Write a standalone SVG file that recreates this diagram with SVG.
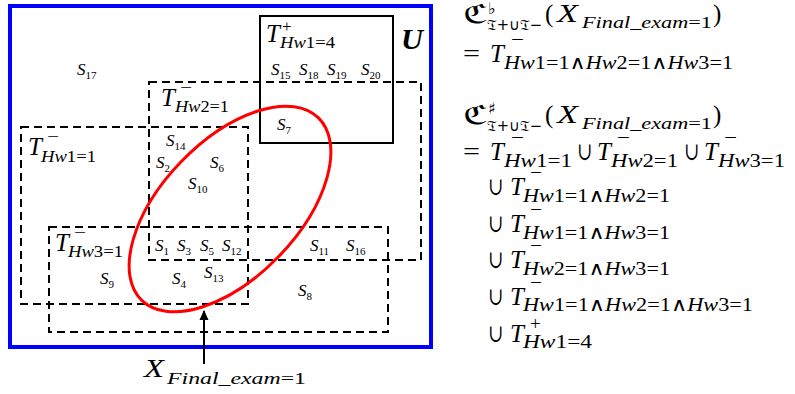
<svg xmlns="http://www.w3.org/2000/svg" width="795" height="394" viewBox="0 0 795 394">
<style>
text{font-family:"Liberation Serif","DejaVu Serif",serif;fill:#000}
.s{font-size:17px;font-style:italic}
.ss{font-size:11px;font-style:normal}
.T{font-size:25px;font-style:italic}
.sup{font-size:17px;font-style:normal}
.sub{font-size:16px;font-style:italic}
.r{font-size:25px}
.ri{font-size:25px;font-style:italic}
.rs{font-size:19px;font-style:italic}
.rsup{font-size:19px;font-style:normal}
.n{font-style:normal}
.dash{fill:none;stroke:#000;stroke-width:2;stroke-dasharray:8,5}
.frak{font-family:"DejaVu Sans","DejaVu Serif","Noto Sans",serif;font-style:normal}
</style>
<defs>
<marker id="ah" viewBox="0 0 10 10" refX="9" refY="5" markerWidth="10" markerHeight="10" markerUnits="userSpaceOnUse" orient="auto">
<path d="M0,0.5 L10,5 L0,9.5 Z" fill="#000"/>
</marker>
</defs>
<rect x="0" y="0" width="795" height="394" fill="#fff"/>

<g id="universe">
<rect x="10" y="6" width="421" height="341" fill="none" stroke="#0000ff" stroke-width="4"/>
<text x="401" y="49" style="font-size:29px;font-weight:bold;font-style:italic" textLength="22" lengthAdjust="spacingAndGlyphs">U</text>
</g>

<g id="T-plus-hw1-4">
<rect x="260" y="16" width="133" height="127" fill="none" stroke="#000" stroke-width="2"/>
<text x="266" y="42" class="T">T</text>
<text x="282" y="32" class="sup">+</text>
<text x="280" y="48" class="sub" textLength="55" lengthAdjust="spacingAndGlyphs">Hw<tspan class="n">1=4</tspan></text>
</g>

<g id="T-minus-hw2-1">
<rect x="149" y="82" width="272" height="178" class="dash"/>
<text x="161" y="106" class="T">T</text>
<text x="180" y="93" class="sup" textLength="12" lengthAdjust="spacingAndGlyphs">−</text>
<text x="175" y="112" class="sub" textLength="54" lengthAdjust="spacingAndGlyphs">Hw<tspan class="n">2=1</tspan></text>
</g>

<g id="T-minus-hw1-1">
<rect x="21" y="127" width="227" height="177" class="dash"/>
<text x="28" y="155" class="T">T</text>
<text x="47" y="142" class="sup" textLength="12" lengthAdjust="spacingAndGlyphs">−</text>
<text x="41" y="162" class="sub" textLength="55" lengthAdjust="spacingAndGlyphs">Hw<tspan class="n">1=1</tspan></text>
</g>

<g id="T-minus-hw3-1">
<rect x="49" y="227" width="339" height="105" class="dash"/>
<text x="55" y="251" class="T">T</text>
<text x="74" y="238" class="sup" textLength="12" lengthAdjust="spacingAndGlyphs">−</text>
<text x="68" y="257" class="sub" textLength="55" lengthAdjust="spacingAndGlyphs">Hw<tspan class="n">3=1</tspan></text>
</g>

<g id="X-final-exam">
<ellipse cx="230" cy="209" rx="127" ry="68" transform="rotate(-46 230 209)" fill="none" stroke="#ff0000" stroke-width="3"/>
</g>

<g id="elements">
<text x="77" y="75" class="s">S<tspan class="ss" dy="4">17</tspan></text>
<text x="271" y="75" class="s">S<tspan class="ss" dy="4">15</tspan></text>
<text x="299" y="75" class="s">S<tspan class="ss" dy="4">18</tspan></text>
<text x="327" y="75" class="s">S<tspan class="ss" dy="4">19</tspan></text>
<text x="361" y="75" class="s">S<tspan class="ss" dy="4">20</tspan></text>
<text x="277" y="130" class="s">S<tspan class="ss" dy="4">7</tspan></text>
<text x="166" y="146" class="s">S<tspan class="ss" dy="4">14</tspan></text>
<text x="156" y="168" class="s">S<tspan class="ss" dy="4">2</tspan></text>
<text x="210" y="168" class="s">S<tspan class="ss" dy="4">6</tspan></text>
<text x="188" y="189" class="s">S<tspan class="ss" dy="4">10</tspan></text>
<text x="155" y="251" class="s">S<tspan class="ss" dy="4">1</tspan></text>
<text x="177" y="251" class="s">S<tspan class="ss" dy="4">3</tspan></text>
<text x="200" y="251" class="s">S<tspan class="ss" dy="4">5</tspan></text>
<text x="222" y="251" class="s">S<tspan class="ss" dy="4">12</tspan></text>
<text x="310" y="251" class="s">S<tspan class="ss" dy="4">11</tspan></text>
<text x="346" y="251" class="s">S<tspan class="ss" dy="4">16</tspan></text>
<text x="100" y="284" class="s">S<tspan class="ss" dy="4">9</tspan></text>
<text x="172" y="284" class="s">S<tspan class="ss" dy="4">4</tspan></text>
<text x="204" y="278" class="s">S<tspan class="ss" dy="4">13</tspan></text>
<text x="298" y="296" class="s">S<tspan class="ss" dy="4">8</tspan></text>
</g>

<g id="connectors">
<line x1="204" y1="364" x2="204" y2="311" stroke="#000" stroke-width="2" marker-end="url(#ah)"/>
</g>

<g id="X-label">
<text x="144" y="377" style="font-size:25px;font-style:italic" textLength="20" lengthAdjust="spacingAndGlyphs">X</text>
<text x="167" y="384" class="sub" textLength="139" lengthAdjust="spacingAndGlyphs">Final_exam<tspan class="n">=1</tspan></text>
</g>

<g id="formulas">
<!-- line 1 -->
<text x="463" y="23" class="frak" style="font-size:26px" textLength="25" lengthAdjust="spacingAndGlyphs">ℭ</text>
<text x="488" y="14" class="frak" style="font-size:16px">♭</text>
<text x="487" y="30" class="frak" style="font-size:15px" textLength="55" lengthAdjust="spacingAndGlyphs">𝔗+∪𝔗−</text>
<text x="545" y="22" class="r">(</text>
<text x="557" y="22" class="ri" textLength="21" lengthAdjust="spacingAndGlyphs">X</text>
<text x="582" y="28" class="rs" style="font-size:17px" textLength="130" lengthAdjust="spacingAndGlyphs">Final_exam<tspan class="n">=1</tspan></text>
<text x="713" y="22" class="r">)</text>
<!-- line 2 -->
<text x="463" y="62" class="r" textLength="17" lengthAdjust="spacingAndGlyphs">=</text>
<text x="490" y="62" class="ri">T</text>
<text x="511" y="46" class="rsup" textLength="13" lengthAdjust="spacingAndGlyphs">−</text>
<text x="504" y="69" class="rs" textLength="229" lengthAdjust="spacingAndGlyphs">Hw<tspan class="n">1=1∧</tspan>Hw<tspan class="n">2=1∧</tspan>Hw<tspan class="n">3=1</tspan></text>
<!-- line 3 -->
<text x="463" y="124" class="frak" style="font-size:26px" textLength="25" lengthAdjust="spacingAndGlyphs">ℭ</text>
<text x="488" y="114" class="frak" style="font-size:16px">♯</text>
<text x="487" y="131" class="frak" style="font-size:15px" textLength="55" lengthAdjust="spacingAndGlyphs">𝔗+∪𝔗−</text>
<text x="545" y="123" class="r">(</text>
<text x="557" y="123" class="ri" textLength="21" lengthAdjust="spacingAndGlyphs">X</text>
<text x="582" y="129" class="rs" style="font-size:17px" textLength="130" lengthAdjust="spacingAndGlyphs">Final_exam<tspan class="n">=1</tspan></text>
<text x="713" y="123" class="r">)</text>
<!-- line 4 -->
<text x="463" y="160" class="r" textLength="17" lengthAdjust="spacingAndGlyphs">=</text>
<text x="490" y="160" class="ri">T</text>
<text x="511" y="144" class="rsup" textLength="13" lengthAdjust="spacingAndGlyphs">−</text>
<text x="504" y="167" class="rs" textLength="68" lengthAdjust="spacingAndGlyphs">Hw<tspan class="n">1=1</tspan></text>
<text x="577" y="160" class="r" textLength="15" lengthAdjust="spacingAndGlyphs">∪</text>
<text x="597" y="160" class="ri">T</text>
<text x="617" y="144" class="rsup" textLength="13" lengthAdjust="spacingAndGlyphs">−</text>
<text x="611" y="167" class="rs" textLength="67" lengthAdjust="spacingAndGlyphs">Hw<tspan class="n">2=1</tspan></text>
<text x="684" y="160" class="r" textLength="15" lengthAdjust="spacingAndGlyphs">∪</text>
<text x="704" y="160" class="ri">T</text>
<text x="724" y="144" class="rsup" textLength="13" lengthAdjust="spacingAndGlyphs">−</text>
<text x="718" y="167" class="rs" textLength="67" lengthAdjust="spacingAndGlyphs">Hw<tspan class="n">3=1</tspan></text>
<!-- line 5 -->
<text x="488" y="195" class="r" textLength="15" lengthAdjust="spacingAndGlyphs">∪</text>
<text x="510" y="195" class="ri">T</text>
<text x="530" y="179" class="rsup" textLength="12" lengthAdjust="spacingAndGlyphs">−</text>
<text x="523" y="202" class="rs" textLength="147" lengthAdjust="spacingAndGlyphs">Hw<tspan class="n">1=1∧</tspan>Hw<tspan class="n">2=1</tspan></text>
<!-- line 6 -->
<text x="488" y="232" class="r" textLength="15" lengthAdjust="spacingAndGlyphs">∪</text>
<text x="510" y="232" class="ri">T</text>
<text x="530" y="216" class="rsup" textLength="12" lengthAdjust="spacingAndGlyphs">−</text>
<text x="523" y="239" class="rs" textLength="147" lengthAdjust="spacingAndGlyphs">Hw<tspan class="n">1=1∧</tspan>Hw<tspan class="n">3=1</tspan></text>
<!-- line 7 -->
<text x="488" y="268" class="r" textLength="15" lengthAdjust="spacingAndGlyphs">∪</text>
<text x="510" y="268" class="ri">T</text>
<text x="530" y="252" class="rsup" textLength="12" lengthAdjust="spacingAndGlyphs">−</text>
<text x="523" y="275" class="rs" textLength="147" lengthAdjust="spacingAndGlyphs">Hw<tspan class="n">2=1∧</tspan>Hw<tspan class="n">3=1</tspan></text>
<!-- line 8 -->
<text x="488" y="305" class="r" textLength="15" lengthAdjust="spacingAndGlyphs">∪</text>
<text x="510" y="305" class="ri">T</text>
<text x="530" y="289" class="rsup" textLength="12" lengthAdjust="spacingAndGlyphs">−</text>
<text x="523" y="311" class="rs" textLength="230" lengthAdjust="spacingAndGlyphs">Hw<tspan class="n">1=1∧</tspan>Hw<tspan class="n">2=1∧</tspan>Hw<tspan class="n">3=1</tspan></text>
<!-- line 9 -->
<text x="488" y="342" class="r" textLength="15" lengthAdjust="spacingAndGlyphs">∪</text>
<text x="510" y="342" class="ri">T</text>
<text x="530" y="330" class="rsup">+</text>
<text x="523" y="348" class="rs" textLength="69" lengthAdjust="spacingAndGlyphs">Hw<tspan class="n">1=4</tspan></text>
</g>
</svg>
